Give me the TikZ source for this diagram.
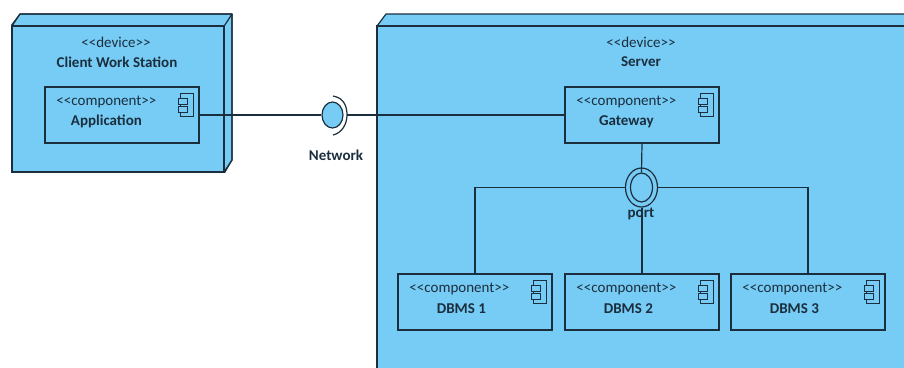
\documentclass[tikz,border=0pt]{standalone}
\usepackage{fontspec}
\setmainfont{Carlito}
\usepackage{xcolor}
\usetikzlibrary{calc}
\usetikzlibrary{shapes.geometric}
\definecolor{nodeblue}{HTML}{76CCF5}
\definecolor{lineink}{HTML}{1B2E3E}
\tikzset{
 devicebox/.style={draw=lineink,fill=nodeblue,line width=1.2pt,inner sep=0pt},
 devicetop/.style={draw=lineink,fill=nodeblue,line width=1.2pt,line join=round},
 compbox/.style={draw=lineink,fill=nodeblue,line width=1.2pt,minimum width=154pt,minimum height=56pt,inner sep=0pt},
 iconbox/.style={draw=lineink,fill=nodeblue,line width=1pt},
 conn/.style={draw=lineink,line width=1.2pt},
 stereo/.style={text=lineink,font=\fontsize{15}{17}\selectfont},
 title/.style={text=lineink,font=\fontsize{15}{17}\selectfont\bfseries},
 ball/.style={ellipse,draw=lineink,fill=nodeblue,line width=1.2pt,inner sep=0pt},
}
\newcommand{\compicon}[1]{
        \draw[iconbox] ($(#1.north east)+(-19,7)$) rectangle ($(#1.north east)+(-6,30)$);
        \draw[iconbox] ($(#1.north east)+(-21,12)$) rectangle ($(#1.north east)+(-12,18)$);
        \draw[iconbox] ($(#1.north east)+(-21,20)$) rectangle ($(#1.north east)+(-12,26)$);
}
\newcommand{\complabel}[3]{
        \node[stereo] (#1stereo) at ($(#1.north west)+(62,15.5)$) {<{}<component>{}>};
        \node[title] (#1title) at ($(#1.north west)+(#3,35.5)$) {#2};
}
\begin{document}
\begin{tikzpicture}[x=1pt,y=-1pt]
        \useasboundingbox (0,0) rectangle (904,367);
        \clip (0,0) rectangle (904,367);
        % client device
        \path[devicetop] (20,14) -- (232,14) -- (232,160) -- (224,172) -- (12,26) -- cycle;
        \node[devicebox,minimum width=212pt,minimum height=146pt] (client) at (118,99) {};
        \draw[devicetop,fill=none] (client.north west) -- (20,14) -- (232,14) -- (client.north east);
        \draw[devicetop,fill=none] (232,14) -- (232,160) -- (client.south east);
        \node[stereo] (clientstereo) at (116,42) {<{}<device>{}>};
        \node[title] (clienttitle) at (117,62) {Client Work Station};
        % server device, cut off by the page
        \path[devicetop,draw=none] (386,14) -- (950,14) -- (950,26) -- (377,26) -- cycle;
        \draw[devicetop,fill=none] (377,26) -- (386,14) -- (950,14);
        \node[devicebox,minimum width=600pt,minimum height=374pt] (server) at (677,213) {};
        \node[stereo] (serverstereo) at (641,42) {<{}<device>{}>};
        \node[title] (servertitle) at (641,62) {Server};
        % components
        \node[compbox] (application) at (122,115) {};
        \node[compbox] (gateway) at (642,115) {};
        \node[compbox] (dbmsone) at (475,302) {};
        \node[compbox] (dbmstwo) at (642,302) {};
        \node[compbox] (dbmsthree) at (808,302) {};
        \complabel{application}{Application}{62}
        \complabel{gateway}{Gateway}{62}
        \complabel{dbmsone}{DBMS 1}{64}
        \complabel{dbmstwo}{DBMS 2}{64}
        \complabel{dbmsthree}{DBMS 3}{64}
        \compicon{application}
        \compicon{gateway}
        \compicon{dbmsone}
        \compicon{dbmstwo}
        \compicon{dbmsthree}
        % network interface
        \node[ball,minimum width=21pt,minimum height=26pt] (network) at (332.5,115) {};
        \coordinate (socket) at (347,115);
        \draw[conn] (333,96) .. controls (345,98) and (347,108) .. (socket) .. controls (347,124) and (342,133) .. (333,135);
        \node[title] (networklabel) at (336,155) {Network};
        \draw[conn] (application.east |- network.west) -- (network.west);
        \draw[conn] (socket) -- (gateway.west);
        % port
        \node[ball,minimum width=32pt,minimum height=39pt] (port) at (641.5,187.5) {};
        \node[ball,minimum width=22pt,minimum height=29pt] (portinner) at (641.5,187.5) {};
        \draw[conn] (gateway.south) -- (portinner.north);
        \draw[conn] (port.south -| dbmstwo.north) -- (dbmstwo.north);
        \draw[conn] (port.west) -| (dbmsone.north);
        \draw[conn] (port.east) -| (dbmsthree.north);
        \node[title] (portlabel) at (641,213.5) {port};
\end{tikzpicture}
\end{document}
